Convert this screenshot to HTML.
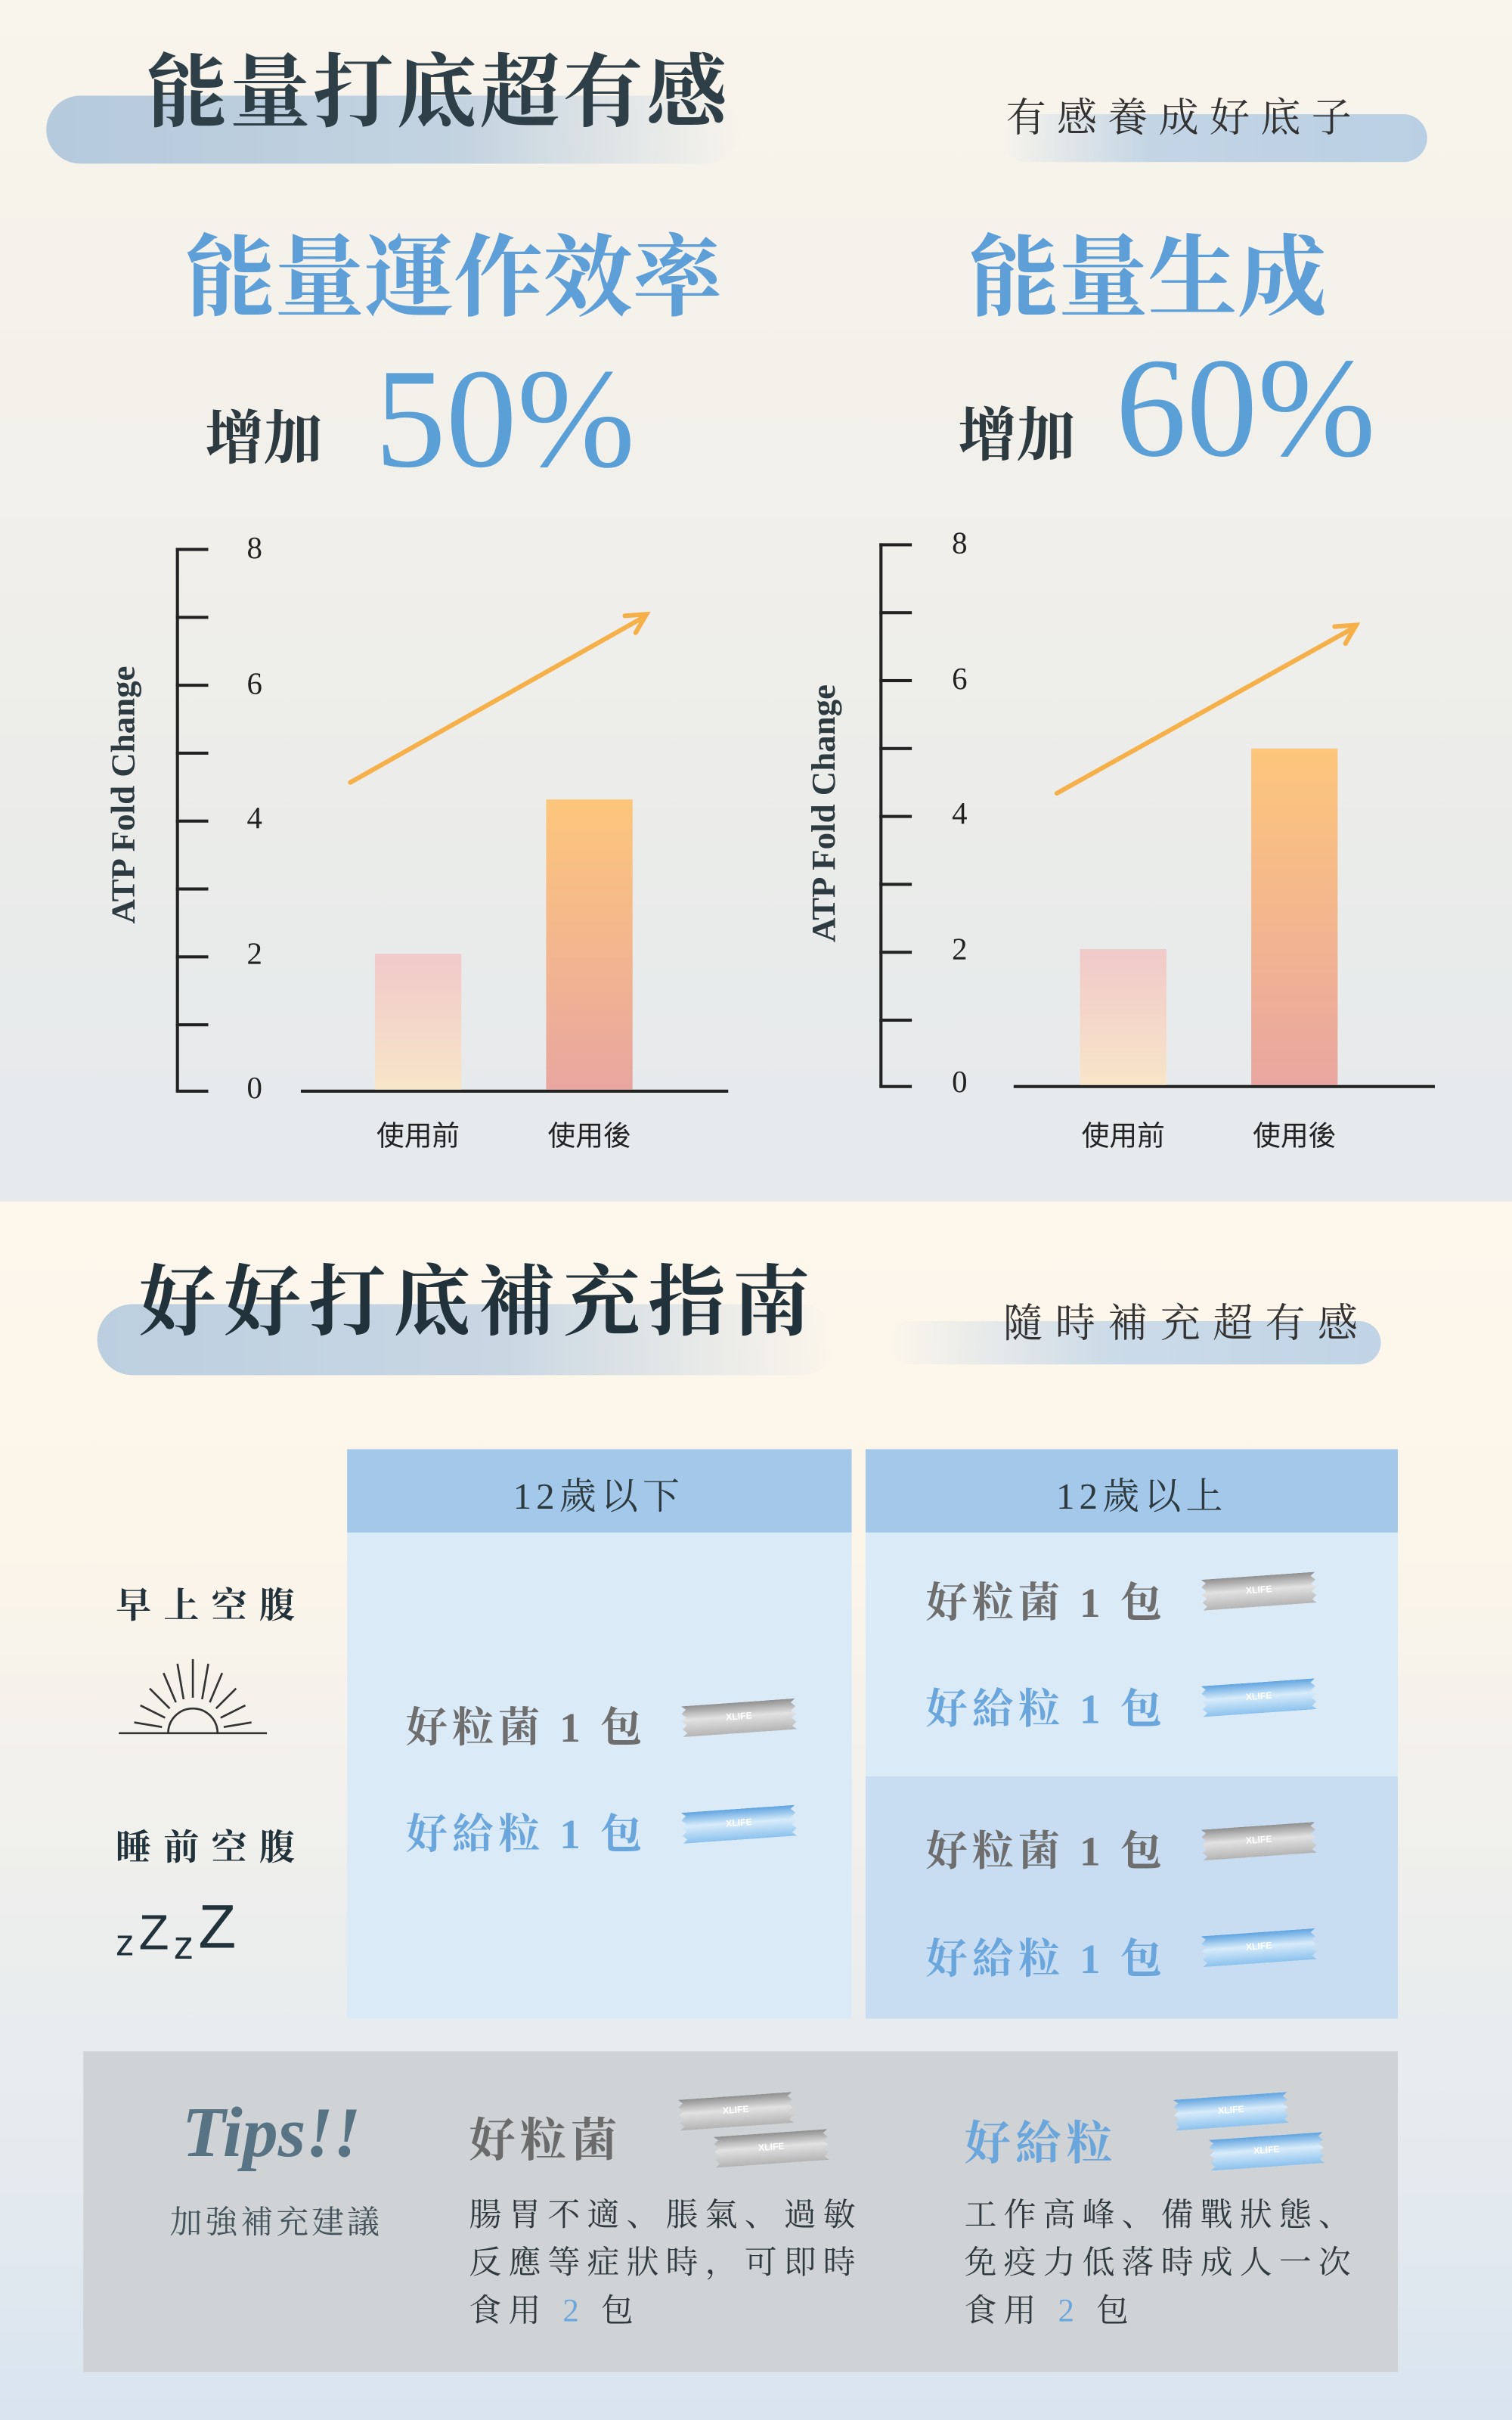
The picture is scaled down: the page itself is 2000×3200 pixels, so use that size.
<!DOCTYPE html>
<html><head><meta charset="utf-8">
<style>
html,body{margin:0;padding:0;}
body{width:2000px;height:3200px;overflow:hidden;position:relative;}
#w{position:absolute;left:0;top:0;width:980px;height:1568px;transform:scale(2.040816);transform-origin:0 0;
background:linear-gradient(180deg,#f9f5ec 0px,#f2f0ea 300px,#e9ebea 600px,#e6eaee 778px,#fdf7ec 779px,#fcf5ea 1000px,#eceeed 1250px,#e2e9ef 1450px,#d9e4ef 1568px);
font-family:"Liberation Serif","Noto Serif CJK SC","Noto Serif CJK TC",serif;overflow:hidden;}
.a{position:absolute;white-space:nowrap;}
.pill{position:absolute;border-radius:30px;}
.sans{font-family:"Liberation Sans","Noto Sans CJK TC",sans-serif;}
.pk{position:absolute;width:74px;height:20px;transform:rotate(-4deg);
clip-path:polygon(0 0,4% 12%,0 25%,4% 38%,0 50%,4% 62%,0 75%,4% 88%,0 100%,100% 100%,96% 88%,100% 75%,96% 62%,100% 50%,96% 38%,100% 25%,96% 12%,100% 0);
font:bold 6px "Liberation Sans",sans-serif;color:#fff;text-align:center;line-height:20px;}
.g{background:linear-gradient(180deg,#8f8f8f,#e2e2e2 45%,#b4b4b4);}
.b{background:linear-gradient(180deg,#5fa3e0,#d8ecfa 45%,#8cc2ee);}
.tick{position:absolute;height:1.5px;background:#222;width:21px;}
.num{position:absolute;font-size:20px;color:#222;transform:translate(-50%,-50%);}
.item{position:absolute;font-size:27px;font-weight:bold;letter-spacing:3px;transform:translateY(-50%);}
</style></head><body><div id="w">

<!-- header 1 -->
<div class="pill" style="left:30px;top:62px;width:450px;height:44px;background:linear-gradient(90deg,#b5cadd 0%,#c3d3e0 60%,rgba(220,228,232,0) 100%);"></div>
<div class="a" style="left:95px;top:18px;font-size:52px;font-weight:bold;color:#2f3f48;letter-spacing:2px;">能量打底超有感</div>
<div class="pill" style="left:650px;top:74px;width:275px;height:31px;background:linear-gradient(90deg,rgba(200,215,228,0) 0%,#c3d5e5 35%,#b9cfe3 100%);"></div>
<div class="a" style="left:652px;top:56px;font-size:26px;color:#333;letter-spacing:7px;">有感養成好底子</div>

<div class="a" style="left:120px;top:133px;font-size:58px;font-weight:bold;color:#5e9fd7;">能量運作效率</div>
<div class="a" style="left:628px;top:133px;font-size:58px;font-weight:bold;color:#5e9fd7;">能量生成</div>
<div class="a" style="left:133px;top:253px;font-size:38px;font-weight:bold;color:#2d3a40;">增加</div>
<div class="a" style="left:243px;top:219px;font-size:92px;color:#5a9fd6;line-height:104px;">50%</div>
<div class="a" style="left:621px;top:251px;font-size:38px;font-weight:bold;color:#2d3a40;">增加</div>
<div class="a" style="left:723px;top:212px;font-size:92px;color:#5a9fd6;line-height:104px;">60%</div>

<!-- left chart -->
<div class="a" style="left:114px;top:355px;width:1.5px;height:352px;background:#222;"></div>
<div class="tick" style="left:114px;top:355px"></div><div class="tick" style="left:114px;top:399px"></div>
<div class="tick" style="left:114px;top:443px"></div><div class="tick" style="left:114px;top:487px"></div>
<div class="tick" style="left:114px;top:531px"></div><div class="tick" style="left:114px;top:575px"></div>
<div class="tick" style="left:114px;top:619px"></div><div class="tick" style="left:114px;top:663px"></div>
<div class="tick" style="left:114px;top:706px"></div>
<div class="num" style="left:165px;top:356px">8</div><div class="num" style="left:165px;top:444px">6</div>
<div class="num" style="left:165px;top:531px">4</div><div class="num" style="left:165px;top:619px">2</div>
<div class="num" style="left:165px;top:706px">0</div>
<div class="a" style="left:80px;top:515px;font-size:22px;font-weight:bold;color:#2d3a40;transform:translate(-50%,-50%) rotate(-90deg);">ATP Fold Change</div>
<div class="a" style="left:195px;top:706px;width:277px;height:1.5px;background:#222;"></div>
<div class="a" style="left:243px;top:618px;width:56px;height:88px;background:linear-gradient(180deg,#f0c9c9,#f8e5c9);"></div>
<div class="a" style="left:354px;top:518px;width:56px;height:188px;background:linear-gradient(180deg,#fdc67b,#e9a6a0);"></div>
<div class="a sans" style="left:271px;top:735px;font-size:18px;color:#222;transform:translate(-50%,-50%);">使用前</div>
<div class="a sans" style="left:382px;top:735px;font-size:18px;color:#222;transform:translate(-50%,-50%);">使用後</div>

<!-- right chart -->
<div class="a" style="left:570px;top:352px;width:1.5px;height:352px;background:#222;"></div>
<div class="tick" style="left:570px;top:352px"></div><div class="tick" style="left:570px;top:396px"></div>
<div class="tick" style="left:570px;top:440px"></div><div class="tick" style="left:570px;top:484px"></div>
<div class="tick" style="left:570px;top:528px"></div><div class="tick" style="left:570px;top:572px"></div>
<div class="tick" style="left:570px;top:616px"></div><div class="tick" style="left:570px;top:660px"></div>
<div class="tick" style="left:570px;top:703px"></div>
<div class="num" style="left:622px;top:353px">8</div><div class="num" style="left:622px;top:441px">6</div>
<div class="num" style="left:622px;top:528px">4</div><div class="num" style="left:622px;top:616px">2</div>
<div class="num" style="left:622px;top:702px">0</div>
<div class="a" style="left:534px;top:527px;font-size:22px;font-weight:bold;color:#2d3a40;transform:translate(-50%,-50%) rotate(-90deg);">ATP Fold Change</div>
<div class="a" style="left:657px;top:703px;width:273px;height:1.5px;background:#222;"></div>
<div class="a" style="left:700px;top:615px;width:56px;height:88px;background:linear-gradient(180deg,#f0c9c9,#f8e5c9);"></div>
<div class="a" style="left:811px;top:485px;width:56px;height:218px;background:linear-gradient(180deg,#fdc67b,#e9a6a0);"></div>
<div class="a sans" style="left:728px;top:735px;font-size:18px;color:#222;transform:translate(-50%,-50%);">使用前</div>
<div class="a sans" style="left:839px;top:735px;font-size:18px;color:#222;transform:translate(-50%,-50%);">使用後</div>

<svg class="a" style="left:0;top:0" width="980" height="780">
<g stroke="#f5b04a" stroke-width="3" fill="none" stroke-linecap="round">
<line x1="227" y1="507" x2="417" y2="400"/><polyline points="405,399 419,398 412,410"/>
<line x1="685" y1="514" x2="877" y2="407"/><polyline points="865,406 879,405 872,417"/>
</g></svg>

<!-- section 2 header -->
<div class="pill" style="left:63px;top:845px;width:480px;height:46px;background:linear-gradient(90deg,#bccfe0 0%,#c9d7e3 55%,rgba(240,240,238,0) 100%);"></div>
<div class="a" style="left:90px;top:804px;font-size:50px;font-weight:bold;color:#22323b;letter-spacing:5px;">好好打底補充指南</div>
<div class="pill" style="left:575px;top:856px;width:320px;height:28px;background:linear-gradient(90deg,rgba(210,222,232,0) 0%,#ccdbe8 45%,#c0d4e6 100%);"></div>
<div class="a" style="left:650px;top:837px;font-size:26px;color:#333;letter-spacing:8px;">隨時補充超有感</div>

<!-- table -->
<div class="a" style="left:225px;top:939px;width:327px;height:54px;background:#a3c8ea;"></div>
<div class="a" style="left:225px;top:993px;width:327px;height:315px;background:#dbeaf7;"></div>
<div class="a" style="left:561px;top:939px;width:345px;height:54px;background:#a3c8ea;"></div>
<div class="a" style="left:561px;top:993px;width:345px;height:158px;background:#dbeaf7;"></div>
<div class="a" style="left:561px;top:1151px;width:345px;height:157px;background:#c8ddf1;"></div>
<div class="a" style="left:388px;top:967px;font-size:24px;color:#2d3a40;letter-spacing:3px;transform:translate(-50%,-50%);">12歲以下</div>
<div class="a" style="left:740px;top:967px;font-size:24px;color:#2d3a40;letter-spacing:3px;transform:translate(-50%,-50%);">12歲以上</div>

<div class="a" style="left:75px;top:1022px;font-size:23px;font-weight:bold;color:#22323b;letter-spacing:8px;">早上空腹</div>
<div class="a" style="left:75px;top:1179px;font-size:23px;font-weight:bold;color:#22323b;letter-spacing:8px;">睡前空腹</div>
<svg class="a" style="left:75px;top:1072px" width="100" height="55">
<g stroke="#333" stroke-width="1.3" fill="none">
<line x1="2" y1="51" x2="98" y2="51"/>
<path d="M34,51 A16,16 0 0 1 66,51"/>
<line x1="50" y1="3" x2="50" y2="28"/><line x1="40" y1="6" x2="44" y2="29"/><line x1="60" y1="6" x2="56" y2="29"/>
<line x1="31" y1="12" x2="39" y2="31"/><line x1="69" y1="12" x2="61" y2="31"/>
<line x1="22" y1="22" x2="35" y2="35"/><line x1="78" y1="22" x2="65" y2="35"/>
<line x1="16" y1="33" x2="32" y2="41"/><line x1="84" y1="33" x2="68" y2="41"/>
<line x1="12" y1="44" x2="30" y2="47"/><line x1="88" y1="44" x2="70" y2="47"/>
</g></svg>
<div class="a sans" style="left:75px;top:1232px;color:#22323b;letter-spacing:3px;">
<span style="font-size:24px">z</span><span style="font-size:32px;position:relative;top:-4px">Z</span><span style="font-size:26px;position:relative;top:2px">z</span><span style="font-size:40px;position:relative;top:-5px">Z</span></div>

<div class="item" style="left:263px;top:1117px;color:#6e6e6e;">好粒菌 1 包</div>
<div class="pk g" style="left:442px;top:1103px">XLIFE</div>
<div class="item" style="left:263px;top:1186px;color:#6aa6dc;">好給粒 1 包</div>
<div class="pk b" style="left:442px;top:1172px">XLIFE</div>

<div class="item" style="left:600px;top:1036px;color:#6e6e6e;">好粒菌 1 包</div>
<div class="pk g" style="left:779px;top:1021px">XLIFE</div>
<div class="item" style="left:600px;top:1105px;color:#6aa6dc;">好給粒 1 包</div>
<div class="pk b" style="left:779px;top:1090px">XLIFE</div>
<div class="item" style="left:600px;top:1197px;color:#6e6e6e;">好粒菌 1 包</div>
<div class="pk g" style="left:779px;top:1183px">XLIFE</div>
<div class="item" style="left:600px;top:1267px;color:#6aa6dc;">好給粒 1 包</div>
<div class="pk b" style="left:779px;top:1252px">XLIFE</div>

<!-- tips -->
<div class="a" style="left:54px;top:1329px;width:852px;height:208px;background:#cfd3d5;"></div>
<div class="a" style="left:118px;top:1355px;font-size:46px;font-weight:bold;font-style:italic;color:#587384;">Tips!!</div>
<div class="a" style="left:110px;top:1424px;font-size:21px;color:#45535b;letter-spacing:2px;">加強補充建議</div>
<div class="a" style="left:304px;top:1362px;font-size:30px;font-weight:bold;color:#6b6b6b;letter-spacing:3px;">好粒菌</div>
<div class="pk g" style="left:440px;top:1358px">XLIFE</div>
<div class="pk g" style="left:463px;top:1382px">XLIFE</div>
<div class="a" style="left:625px;top:1364px;font-size:30px;font-weight:bold;color:#6aa6dc;letter-spacing:3px;">好給粒</div>
<div class="pk b" style="left:761px;top:1358px">XLIFE</div>
<div class="pk b" style="left:784px;top:1384px">XLIFE</div>
<div class="a" style="left:304px;top:1420px;font-size:21px;color:#2f3a40;letter-spacing:4.5px;line-height:31px;">腸胃不適、脹氣、過敏<br>反應等症狀時，可即時<br>食用 <span style="color:#6aa6dc">2</span> 包</div>
<div class="a" style="left:625px;top:1420px;font-size:21px;color:#2f3a40;letter-spacing:4.5px;line-height:31px;">工作高峰、備戰狀態、<br>免疫力低落時成人一次<br>食用 <span style="color:#6aa6dc">2</span> 包</div>

</div></body></html>
